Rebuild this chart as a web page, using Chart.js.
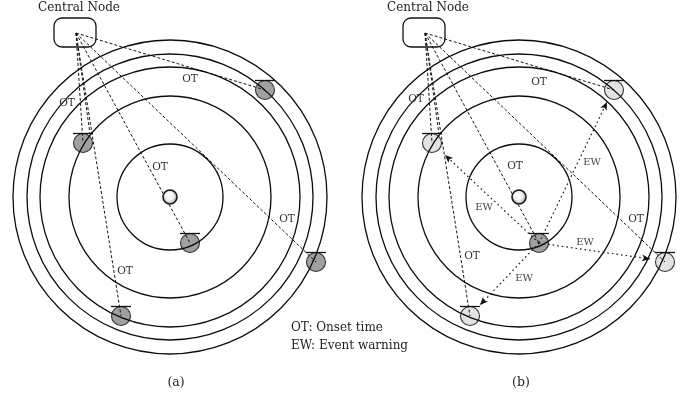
<!DOCTYPE html>
<html>
<head>
<meta charset="utf-8">
<script src="https://cdn.jsdelivr.net/npm/chart.js@4/dist/chart.umd.min.js"></script>
<style>
  html, body { margin: 0; padding: 0; background: #ffffff; }
  canvas { display: block; }
</style>
</head>
<body>
<canvas id="diagram" width="699" height="401"></canvas>
<script>
// Two panels, drawn side by side; each panel's coordinates are relative to its own left edge
const panelCaptions = ['(a)', '(b)'];
const panelOffsetX = [0, 349];
const captionX = [176, 172];
const captionY = 383;

// Concentric wavefront rings around the epicentre
const ringRadii = [53, 101, 130, 143, 157];
const epicentre = [170, 197];

// Central node: anchor point of the links and its rounded box
const nodePoint = [76, 33];
const nodeBox = [54, 18, 96, 47];
const nodeLabel = 'Central Node';
const nodeLabelPos = [79, 8];

// Sensor stations
const sensorX = [265, 83, 190, 316, 121];
const sensorY = [90, 143, 243, 262, 316];
const triggeredSensor = 2;

// Onset-time links from each sensor to the central node
const otLinkX = [265, 83, 90, 190, 316, 121];
const otLinkY = [90, 143, 134, 243, 262, 316];
const otLabelXA = [190, 67, 160, 287, 125];
const otLabelYA = [79, 103, 167, 219, 271];
const otLabelXB = [190, 67, 166, 287, 123];
const otLabelYB = [82, 99, 166, 219, 256];

// Event warnings sent from the triggered sensor (panel b)
const ewEndX = [258, 96, 301, 131];
const ewEndY = [102, 155, 259, 305];
const ewLabelX = [243, 135, 236, 175];
const ewLabelY = [162, 207, 242, 278];

// Legend
const legendLines = ['OT: Onset time', 'EW: Event warning'];
const legendX = 291;
const legendY = [328, 346];

const SENSOR_R = 9.5;
const SERIF = '"DejaVu Serif", serif';

const datasets = [];

panelOffsetX.forEach((off, p) => {
  // node -> sensor links
  otLinkX.forEach((tx, i) => {
    datasets.push({
      data: [{ x: nodePoint[0] + off, y: nodePoint[1] }, { x: tx + off, y: otLinkY[i] }],
      showLine: true, borderDash: [3, 2], borderColor: '#151515', borderWidth: 1,
      pointRadius: 0, order: 1
    });
  });

  // sensors
  datasets.push({
    data: sensorX.map((x, i) => ({ x: x + off, y: sensorY[i] })),
    pointRadius: SENSOR_R, pointHoverRadius: SENSOR_R,
    backgroundColor: sensorX.map((_, i) => (p === 0 || i === triggeredSensor) ? '#a0a0a0' : '#e3e3e3'),
    borderColor: '#333', borderWidth: 1.1, order: 3
  });

  // flat caps on top of the sensors
  datasets.push({
    data: sensorX.map((x, i) => ({ x: x + off, y: sensorY[i] - SENSOR_R })),
    pointStyle: 'line', pointRadius: 10, pointHoverRadius: 10,
    borderColor: '#111', borderWidth: 1.3, order: 2
  });
});

// event warning arrows (panel b)
ewEndX.forEach((ex, i) => {
  const off = panelOffsetX[1];
  datasets.push({
    data: [{ x: sensorX[triggeredSensor] + off, y: sensorY[triggeredSensor] },
           { x: ex + off, y: ewEndY[i] }],
    showLine: true, borderDash: [1.6, 3], borderColor: '#1a1a1a', borderWidth: 1.2,
    pointRadius: 0, order: 1, arrow: true
  });
});

const diagramPlugin = {
  id: 'diagram',
  afterDatasetsDraw(chart) {
    const ctx = chart.ctx;
    const xs = chart.scales.x, ys = chart.scales.y;
    const px = v => xs.getPixelForValue(v);
    const py = v => ys.getPixelForValue(v);

    ctx.save();

    // arrowheads at the end of the warning lines
    chart.data.datasets.forEach((ds, di) => {
      if (!ds.arrow) return;
      const pts = chart.getDatasetMeta(di).data;
      const a = pts[0], b = pts[pts.length - 1];
      const ang = Math.atan2(b.y - a.y, b.x - a.x);
      ctx.save();
      ctx.translate(b.x, b.y);
      ctx.rotate(ang);
      ctx.beginPath();
      ctx.moveTo(0, 0);
      ctx.lineTo(-8, -3.5);
      ctx.lineTo(-6, 0);
      ctx.lineTo(-8, 3.5);
      ctx.closePath();
      ctx.fillStyle = '#111';
      ctx.fill();
      ctx.restore();
    });

    panelOffsetX.forEach((off, p) => {
      const cx = px(epicentre[0] + off), cy = py(epicentre[1]);

      // wavefront rings
      ctx.strokeStyle = '#0d0d0d';
      ctx.lineWidth = 1.3;
      ctx.setLineDash([]);
      ringRadii.forEach(r => {
        const rp = px(epicentre[0] + off + r) - cx;
        ctx.beginPath();
        ctx.arc(cx, cy, rp, 0, Math.PI * 2);
        ctx.stroke();
      });

      // epicentre sphere
      const g = ctx.createRadialGradient(cx - 1.5, cy - 2, 0.5, cx, cy, 7.5);
      g.addColorStop(0, '#ffffff');
      g.addColorStop(0.55, '#f2f2f2');
      g.addColorStop(1, '#959595');
      ctx.beginPath();
      ctx.arc(cx, cy, 7, 0, Math.PI * 2);
      ctx.fillStyle = g;
      ctx.fill();
      ctx.lineWidth = 1.6;
      ctx.strokeStyle = '#1a1a1a';
      ctx.stroke();

      // central node box
      const bx0 = px(nodeBox[0] + off), by0 = py(nodeBox[1]);
      const bx1 = px(nodeBox[2] + off), by1 = py(nodeBox[3]);
      ctx.beginPath();
      ctx.roundRect(bx0, by0, bx1 - bx0, by1 - by0, 8);
      ctx.lineWidth = 1.3;
      ctx.strokeStyle = '#111';
      ctx.stroke();

      ctx.textAlign = 'center';
      ctx.textBaseline = 'middle';
      ctx.fillStyle = '#222';
      ctx.font = '12px ' + SERIF;
      ctx.fillText(nodeLabel, px(nodeLabelPos[0] + off), py(nodeLabelPos[1]));

      // onset-time labels
      ctx.font = '10.5px ' + SERIF;
      ctx.fillStyle = '#333';
      const lx = p === 0 ? otLabelXA : otLabelXB;
      const ly = p === 0 ? otLabelYA : otLabelYB;
      lx.forEach((x, i) => ctx.fillText('OT', px(x + off), py(ly[i])));

      // caption
      ctx.font = '12.5px ' + SERIF;
      ctx.fillStyle = '#222';
      ctx.fillText(panelCaptions[p], px(captionX[p] + off), py(captionY));
    });

    // event warning labels
    ctx.font = '10px ' + SERIF;
    ctx.fillStyle = '#444';
    ewLabelX.forEach((x, i) => ctx.fillText('EW', px(x + panelOffsetX[1]), py(ewLabelY[i])));

    // legend
    ctx.textAlign = 'left';
    ctx.font = '12px ' + SERIF;
    ctx.fillStyle = '#222';
    legendLines.forEach((t, i) => ctx.fillText(t, px(legendX), py(legendY[i])));

    ctx.restore();
  }
};

new Chart(document.getElementById('diagram'), {
  type: 'scatter',
  data: { datasets },
  options: {
    responsive: false,
    devicePixelRatio: 1,
    animation: false,
    events: [],
    layout: { padding: 0, autoPadding: false },
    plugins: { legend: { display: false }, tooltip: { enabled: false } },
    scales: {
      x: { type: 'linear', min: 0, max: 699, display: false },
      y: { type: 'linear', min: 0, max: 401, reverse: true, display: false }
    }
  },
  plugins: [diagramPlugin]
});
</script>
</body>
</html>
